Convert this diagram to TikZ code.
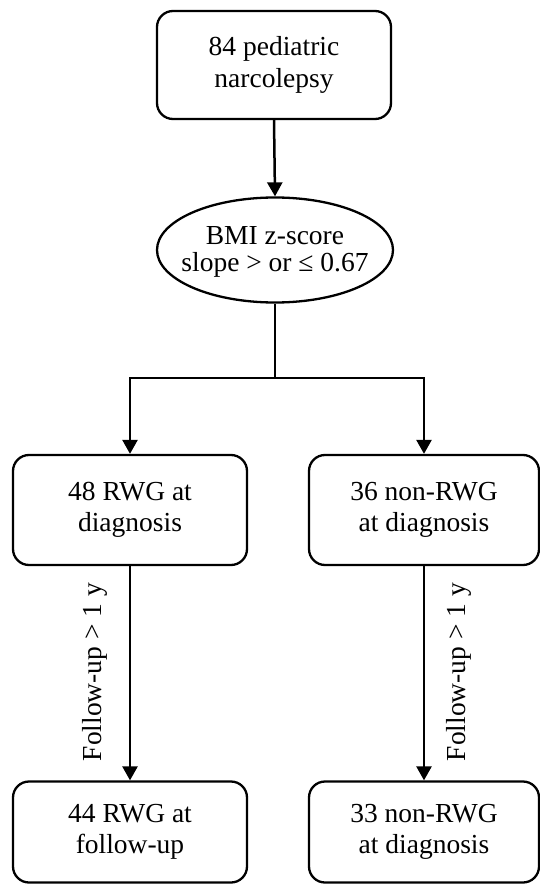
\documentclass[tikz,border=0pt]{standalone}
\usepackage{fontspec}
\setmainfont{Liberation Serif}
\usetikzlibrary{arrows.meta,shapes.geometric}
\begin{document}
\begin{tikzpicture}[x=1pt,y=-1pt,
  box/.style={draw,line width=2.3pt,rounded corners=16pt,minimum width=234pt,minimum height=108pt,align=center,font=\fontsize{27.5}{31.5}\selectfont,inner sep=0pt},
  oval/.style={draw,ellipse,line width=2.3pt,minimum width=236pt,minimum height=105pt,inner sep=0pt},
  ovaltext/.style={align=center,font=\fontsize{27.5}{27}\selectfont,inner sep=0pt},
  conn/.style={line width=2.5pt},
  arr/.style={conn,-{Triangle[length=14pt,width=15pt]}},
  lab/.style={rotate=90,font=\fontsize{27.5}{31}\selectfont,inner sep=0pt}]
\useasboundingbox (0,0) rectangle (539,885);
\node[box] (top) at (274,65) {84 pediatric\\narcolepsy};
\node[oval] (ell) at (275,250) {};
\node[ovaltext] (elltext) at (275,252) {BMI z-score\\slope > or ≤ 0.67};
\node[box,minimum height=110pt] (l1) at (130,510) {48 RWG at\\diagnosis};
\node[box,minimum width=230pt,minimum height=110pt] (r1) at (424,510) {36 non-RWG\\at diagnosis};
\node[box,minimum height=101pt] (l2) at (130,832) {44 RWG at\\follow-up};
\node[box,minimum width=230pt,minimum height=101pt] (r2) at (424,832) {33 non-RWG\\at diagnosis};
\coordinate (j) at (275,378);
\draw[arr] (top.south) -- (ell.north);
\draw[conn] (ell.south) -- (j);
\draw[arr] (j) -| (l1.north);
\draw[arr] (j) -| (r1.north);
\draw[arr] (l1.south) -- (l2.north);
\draw[arr] (r1.south) -- (r2.north);
\node[lab] (fl) at (95,672) {Follow-up > 1 y};
\node[lab] (fr) at (459,672) {Follow-up > 1 y};
\end{tikzpicture}
\end{document}
